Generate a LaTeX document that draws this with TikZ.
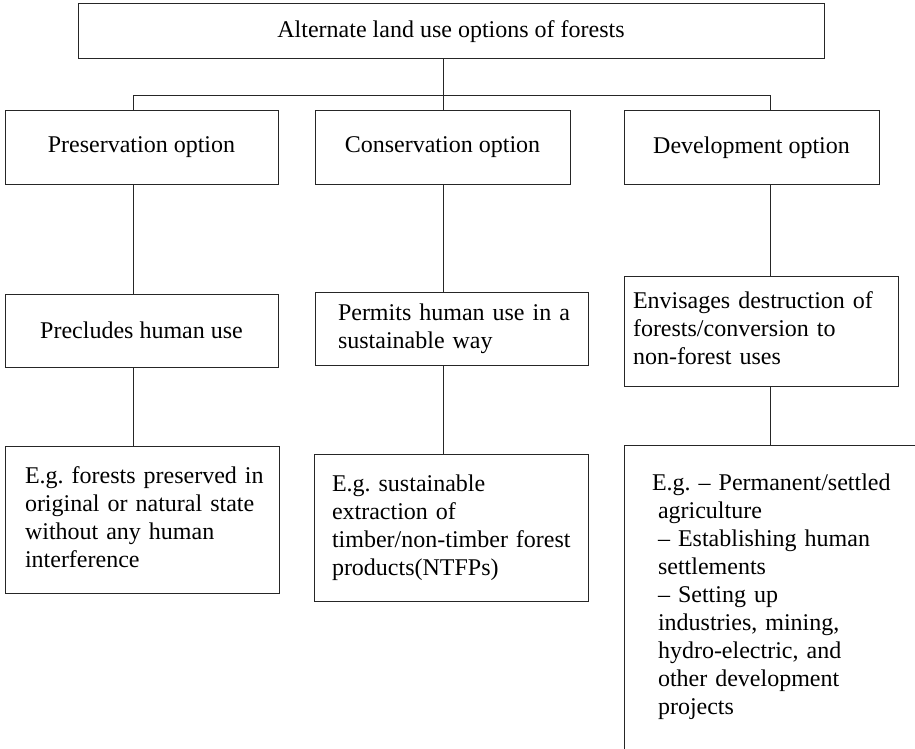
\documentclass[tikz,border=0pt]{standalone}
\usepackage{fontspec}
\setmainfont{Liberation Serif}
\frenchspacing
\usetikzlibrary{calc}
\tikzset{ opt_box/.style = {rectangle, draw=black!85, line width=1pt, align=center, inner sep=0pt, font=\fontsize{24}{28}\selectfont} }
\tikzset{ txt_box/.style = {opt_box, align=left} }
\tikzset{ link/.style = {line width=1pt, draw=black!85} }
\newcommand{\boxlines}[1]{\begin{tabular}{@{}l@{}}#1\end{tabular}}

\begin{document}
\begin{tikzpicture}[x=1pt,y=-1pt]
\useasboundingbox (0,0) rectangle (915,749);
% top box
\node[opt_box, minimum width=746pt, minimum height=55pt] (land) at (451,31.5) {Alternate land use options of forests};
% options
\node[opt_box, minimum width=273pt, minimum height=73pt] (pres) at (141.5,147.5) {Preservation option};
\node[opt_box, minimum width=255pt, minimum height=73pt] (cons) at (442.5,147.5) {Conservation option};
\node[opt_box, minimum width=255pt, minimum height=73pt] (dev) at (751.5,147.5) {Development option};
% what they mean
\node[opt_box, minimum width=273pt, minimum height=73pt] (precl) at (141.5,330.5) {Precludes human use};
\node[txt_box, minimum width=273pt, minimum height=73pt, text width=227pt, inner xsep=23pt] (permit) at (451.5,329) {\boxlines{Permits human use in a\\sustainable way}};
\node[txt_box, minimum width=274pt, minimum height=110pt, text width=256pt, inner xsep=9pt] (envis) at (761,331) {\boxlines{Envisages destruction of\\forests/conversion to\\non-forest uses}};
% examples
\node[txt_box, minimum width=274pt, minimum height=147pt, text width=234pt, inner xsep=20pt] (pres_eg) at (142,519.5) {\boxlines{E.g. forests preserved in\\original or natural state\\without any human\\interference}};
\node[txt_box, minimum width=274pt, minimum height=147pt, text width=238pt, inner xsep=18pt] (cons_eg) at (451,527.5) {\boxlines{E.g. sustainable\\extraction of\\timber/non-timber forest\\products(NTFPs)}};
\node[txt_box, minimum width=306pt, minimum height=304pt, text width=250pt, inner xsep=28pt] (dev_eg) at (777,597) {\boxlines{E.g. -- Permanent/settled\\
\hspace*{6pt}agriculture\\
\hspace*{6pt}-- Establishing human\\
\hspace*{6pt}settlements\\
\hspace*{6pt}-- Setting up\\
\hspace*{6pt}industries, mining,\\
\hspace*{6pt}hydro-electric, and\\
\hspace*{6pt}other development\\
\hspace*{6pt}projects}};
% connectors
\coordinate (c1) at (133,96);
\coordinate (c2) at (443,96);
\coordinate (c3) at (770,96);
\draw[link] (c2 |- land.south) -- (c2 |- cons.north);
\draw[link] (c1 |- pres.north) -- (c1) -- (c3) -- (c3 |- dev.north);
\draw[link] (c1 |- pres.south) -- (c1 |- precl.north);
\draw[link] (c2 |- cons.south) -- (c2 |- permit.north);
\draw[link] (c3 |- dev.south) -- (c3 |- envis.north);
\draw[link] (c1 |- precl.south) -- (c1 |- pres_eg.north);
\draw[link] (c2 |- permit.south) -- (c2 |- cons_eg.north);
\draw[link] (c3 |- envis.south) -- (c3 |- dev_eg.north);
\end{tikzpicture}
\end{document}
